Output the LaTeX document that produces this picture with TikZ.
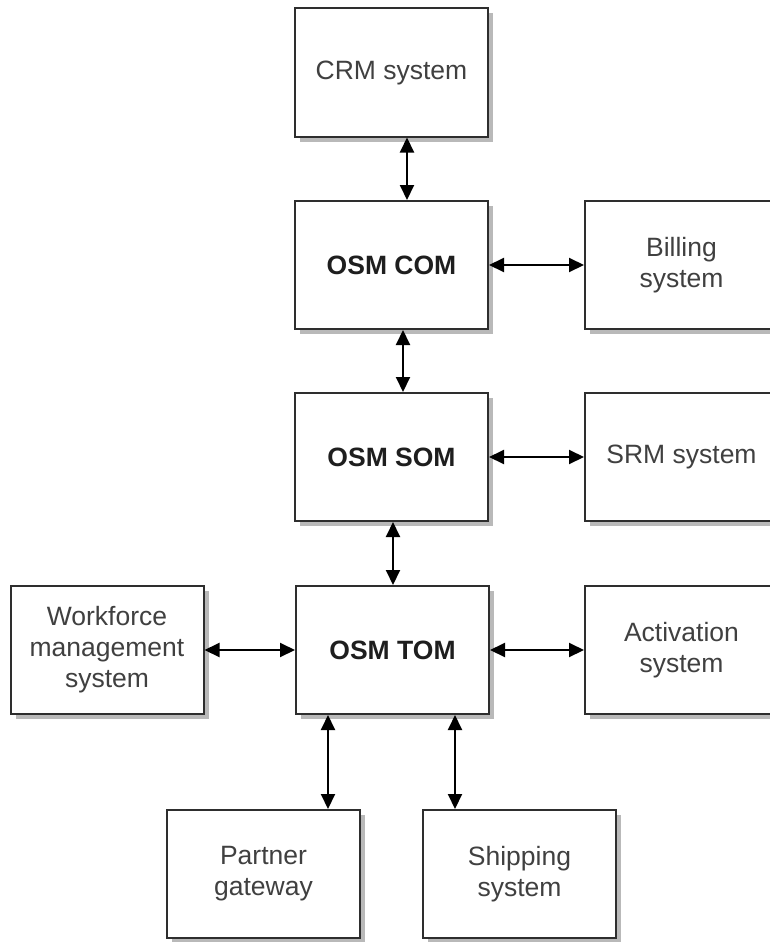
\documentclass[tikz,border=0pt]{standalone}
\usepackage{fontspec}
\setmainfont{Liberation Sans}
\usetikzlibrary{arrows.meta,shadows}
\definecolor{linec}{HTML}{2E2E2E}
\definecolor{textc}{HTML}{404040}
\definecolor{boldc}{HTML}{1E1E1E}
\begin{document}
\begin{tikzpicture}[x=1pt,y=1pt,
  sysbox/.style={draw=linec, line width=2pt, fill=white, minimum width=193pt, minimum height=128pt,
    inner sep=0pt, align=center, text=textc,
    font=\fontsize{26.5}{31}\selectfont,
    drop shadow={shadow xshift=5pt, shadow yshift=-5pt, fill=gray!60, opacity=0.9}},
  osmbox/.style={sysbox, text=boldc, font=\fontsize{26.5}{31}\selectfont\bfseries},
  biarrow/.style={draw=black, line width=2pt, {Triangle[length=15pt,width=14pt]}-{Triangle[length=15pt,width=14pt]}}]
\useasboundingbox (0,0) rectangle (770,-942);
\clip (0,0) rectangle (770,-942);
\fill[white] (0,0) rectangle (770,-942);
\node[sysbox] (crm) at (391.5,-72.5) {CRM system};
\node[osmbox] (com) at (391.5,-265) {OSM COM};
\node[sysbox] (bill) at (681.5,-265) {Billing\\system};
\node[osmbox] (som) at (391.5,-457) {OSM SOM};
\node[sysbox] (srm) at (681.5,-457) {\raisebox{-6pt}{SRM system}};
\node[osmbox] (tom) at (392.5,-650) {OSM TOM};
\node[sysbox] (wfm) at (107,-650) {Workforce\\management\\system};
\node[sysbox] (act) at (681.5,-650) {Activation\\system};
\node[sysbox] (partner) at (263.5,-874) {Partner\\gateway};
\node[sysbox] (ship) at (519.5,-874) {Shipping\\system};
\draw[biarrow] ([xshift=15.5pt]crm.south) -- ([xshift=15.5pt]com.north);
\draw[biarrow] ([xshift=11.5pt]com.south) -- ([xshift=11.5pt]som.north);
\draw[biarrow] ([xshift=1.5pt]som.south) -- ([xshift=0.5pt]tom.north);
\draw[biarrow] (com.east) -- (bill.west);
\draw[biarrow] (som.east) -- (srm.west);
\draw[biarrow] (wfm.east) -- (tom.west);
\draw[biarrow] (tom.east) -- (act.west);
\draw[biarrow] ([xshift=-64.5pt]tom.south) -- ([xshift=64.5pt]partner.north);
\draw[biarrow] ([xshift=62.5pt]tom.south) -- ([xshift=-64.5pt]ship.north);
\end{tikzpicture}
\end{document}
